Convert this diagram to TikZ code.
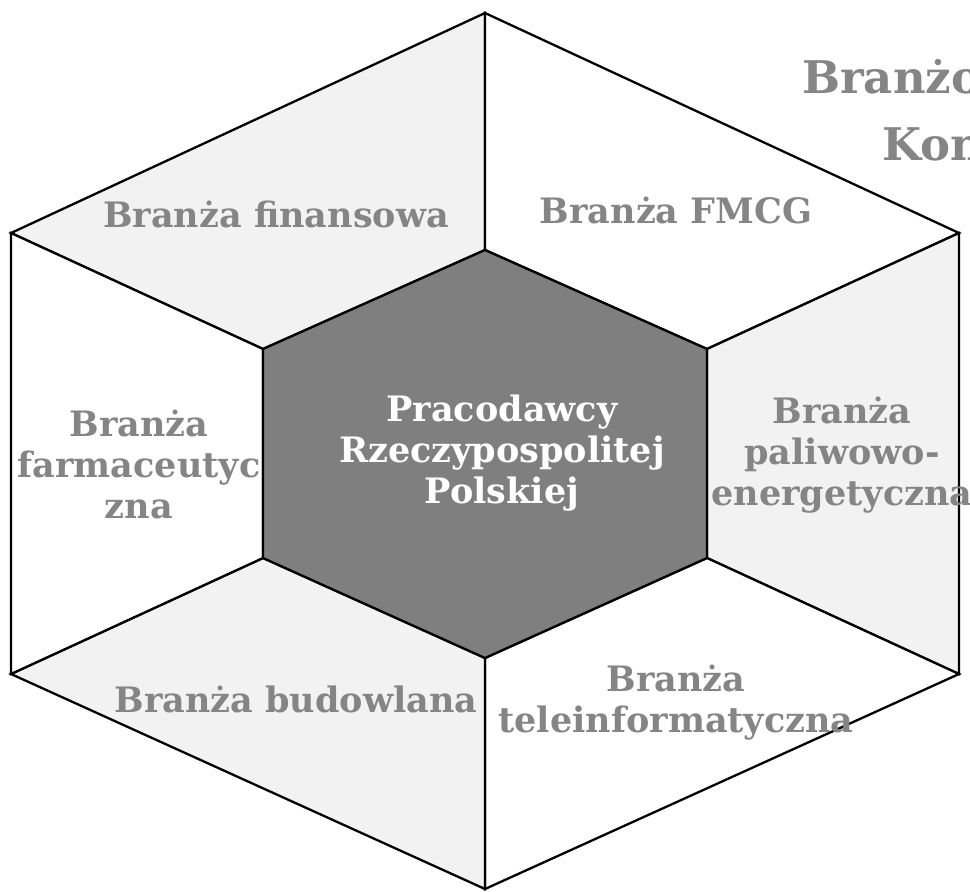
\documentclass[tikz,border=0pt]{standalone}
\usepackage{fontspec}
\setmainfont{DejaVu Serif}
\definecolor{lightfill}{HTML}{F2F2F2}
\definecolor{midgray}{HTML}{7F7F7F}
\definecolor{labelgray}{HTML}{858585}
\begin{document}
\begin{tikzpicture}[x=1pt,y=-1pt,
  sector/.style={draw=black,line width=2.3pt,line join=miter},
  lbl/.style={font=\bfseries\fontsize{35}{41}\selectfont,text=labelgray,align=center,inner sep=0pt,anchor=base},
  ttl/.style={font=\bfseries\fontsize{45}{67}\selectfont,text=labelgray,inner sep=0pt,anchor=base west}]
\useasboundingbox (0,0) rectangle (970,892);
\clip (0,0) rectangle (970,892);
% outer vertices
\coordinate (T) at (485,13);
\coordinate (UR) at (959,233);
\coordinate (LR) at (959,674);
\coordinate (B) at (485,889);
\coordinate (LL) at (11,674);
\coordinate (UL) at (11,233);
% inner vertices
\coordinate (t) at (485,250);
\coordinate (ur) at (707,349);
\coordinate (lr) at (707,558);
\coordinate (b) at (485,658);
\coordinate (ll) at (263,558);
\coordinate (ul) at (263,349);
% sectors
\draw[sector,fill=lightfill] (T) -- (UL) -- (ul) -- (t) -- cycle;
\draw[sector,fill=white] (T) -- (UR) -- (ur) -- (t) -- cycle;
\draw[sector,fill=lightfill] (UR) -- (LR) -- (lr) -- (ur) -- cycle;
\draw[sector,fill=white] (LR) -- (B) -- (b) -- (lr) -- cycle;
\draw[sector,fill=lightfill] (B) -- (LL) -- (ll) -- (b) -- cycle;
\draw[sector,fill=white] (LL) -- (UL) -- (ul) -- (ll) -- cycle;
\draw[sector,fill=midgray] (t) -- (ur) -- (lr) -- (b) -- (ll) -- (ul) -- cycle;
% labels (base anchor = baseline of the last line)
\node[lbl] (fin) at (276,227) {Branża finansowa};
\node[lbl] (fmcg) at (676,223) {Branża FMCG};
\node[lbl] (pal) at (842,505) {Branża\\paliwowo-\\energetyczna};
\node[lbl] (tele) at (676,732) {Branża\\teleinformatyczna};
\node[lbl] (bud) at (296,712) {Branża budowlana};
\node[lbl] (farm) at (139,518) {Branża\\farmaceutyc\\zna};
\node[lbl,text=white] (prp) at (502,503) {Pracodawcy\\Rzeczypospolitej\\Polskiej};
% title (cut by the right edge)
\node[ttl] (tt1) at (802,93) {Branżo};
\node[ttl] (tt2) at (882,160) {Kon};
\end{tikzpicture}
\end{document}
